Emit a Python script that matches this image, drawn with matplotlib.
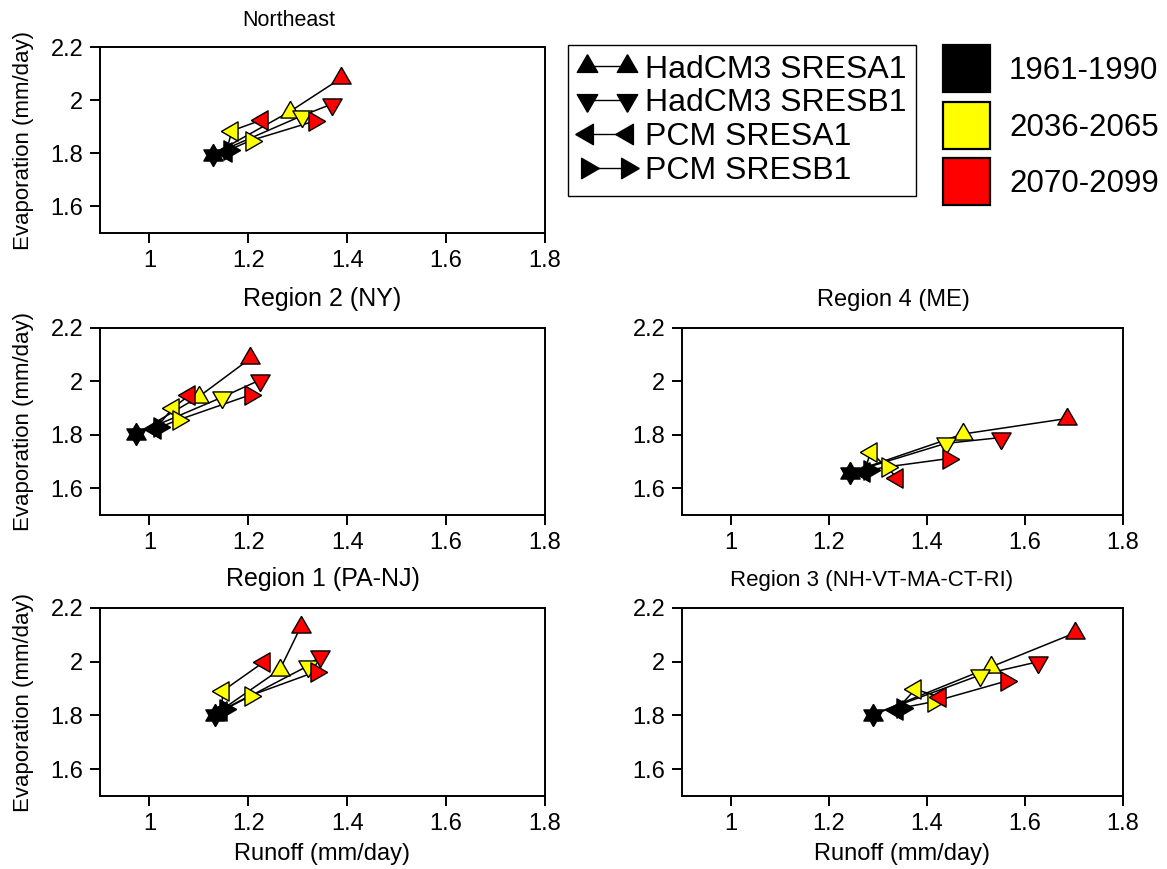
import numpy as np
import matplotlib
matplotlib.use('Agg')
import matplotlib.pyplot as plt
from matplotlib.lines import Line2D
from matplotlib.patches import Rectangle
from matplotlib.ticker import FormatStrFormatter

plt.rcParams['font.family'] = ['Liberation Sans', 'DejaVu Sans']

# scenario order: HadCM3 SRESA1, HadCM3 SRESB1, PCM SRESA1, PCM SRESB1
# each row: [1961-1990, 2036-2065, 2070-2099]
scenarios = ['HadCM3 SRESA1', 'HadCM3 SRESB1', 'PCM SRESA1', 'PCM SRESB1']
periods = ['1961-1990', '2036-2065', '2070-2099']

ne_runoff = [[1.128, 1.284, 1.388], [1.128, 1.308, 1.370],
             [1.155, 1.167, 1.228], [1.160, 1.205, 1.332]]
ne_evap = [[1.795, 1.957, 2.083], [1.795, 1.941, 1.986],
           [1.805, 1.885, 1.926], [1.812, 1.848, 1.920]]

ny_runoff = [[0.972, 1.100, 1.204], [0.972, 1.146, 1.223],
             [1.012, 1.047, 1.081], [1.020, 1.057, 1.203]]
ny_evap = [[1.803, 1.943, 2.086], [1.803, 1.940, 2.005],
           [1.822, 1.900, 1.949], [1.828, 1.855, 1.949]]

pa_runoff = [[1.132, 1.264, 1.306], [1.132, 1.321, 1.345],
             [1.145, 1.149, 1.232], [1.152, 1.203, 1.337]]
pa_evap = [[1.803, 1.971, 2.130], [1.803, 1.985, 2.020],
           [1.815, 1.892, 2.000], [1.825, 1.873, 1.963]]

me_runoff = [[1.242, 1.473, 1.685], [1.242, 1.438, 1.551],
             [1.272, 1.285, 1.339], [1.282, 1.318, 1.443]]
me_evap = [[1.658, 1.803, 1.861], [1.658, 1.768, 1.790],
           [1.662, 1.736, 1.640], [1.668, 1.680, 1.711]]

nh_runoff = [[1.290, 1.531, 1.703], [1.290, 1.508, 1.627],
             [1.338, 1.376, 1.427], [1.348, 1.413, 1.562]]
nh_evap = [[1.803, 1.981, 2.108], [1.803, 1.950, 2.000],
           [1.822, 1.897, 1.869], [1.828, 1.851, 1.928]]

# equilateral triangles centred on their centroid, so that up+down make a star
c, s_ = np.cos(np.pi / 6), 0.5
tri_up = [(0, 1), (-c, -s_), (c, -s_), (0, 1)]
tri_down = [(0, -1), (-c, s_), (c, s_), (0, -1)]
tri_left = [(-1, 0), (s_, c), (s_, -c), (-1, 0)]
tri_right = [(1, 0), (-s_, c), (-s_, -c), (1, 0)]
markers = [tri_up, tri_down, tri_left, tri_right]
period_colors = ['black', '#ffff00', '#ff0000']

W, H = 1167, 869
fig = plt.figure(figsize=(W / 100, H / 100), dpi=100)


def px_axes(x0, y0, x1, y1):
    return fig.add_axes([x0 / W, 1 - y1 / H, (x1 - x0) / W, (y1 - y0) / H])


def draw_panel(ax, runoff, evap, title=None, xlabel=None, ylabel=True,
               title_x=0.5, title_size=18):
    runoff = np.array(runoff)
    evap = np.array(evap)
    for i in range(len(markers)):
        ax.plot(runoff[i], evap[i], color='black', lw=1.1, zorder=2)
    for j in range(len(periods)):
        for i in range(len(markers)):
            ax.scatter(runoff[i, j], evap[i, j], marker=markers[i], s=16 ** 2,
                       facecolor=period_colors[j], edgecolor='black',
                       linewidth=1.0, zorder=3 + j)
    ax.set_xlim(0.9, 1.8)
    ax.set_ylim(1.5, 2.2)
    ax.set_xticks([1, 1.2, 1.4, 1.6, 1.8])
    ax.set_yticks([1.6, 1.8, 2.0, 2.2])
    ax.xaxis.set_major_formatter(FormatStrFormatter('%g'))
    ax.yaxis.set_major_formatter(FormatStrFormatter('%g'))
    ax.tick_params(direction='out', length=7, width=1.4, labelsize=17, pad=5)
    for sp in ax.spines.values():
        sp.set_linewidth(1.4)
    if title:
        ax.set_title(title, fontsize=title_size, pad=16, x=title_x)
    if xlabel:
        ax.set_xlabel(xlabel, fontsize=17, labelpad=6)
    if ylabel:
        ax.set_ylabel('Evaporation (mm/day)', fontsize=16, labelpad=12)


ax_ne = px_axes(100, 47, 545, 233)
ax_ny = px_axes(100, 328, 545, 515)
ax_me = px_axes(682, 328, 1123, 515)
ax_pa = px_axes(100, 608, 545, 796)
ax_nh = px_axes(682, 608, 1123, 796)

draw_panel(ax_ne, ne_runoff, ne_evap)
ax_ne.text(0.425, 1.145, 'Northeast', transform=ax_ne.transAxes,
           ha='center', va='center', fontsize=15.5)
draw_panel(ax_ny, ny_runoff, ny_evap, title='Region 2 (NY)')
draw_panel(ax_me, me_runoff, me_evap, title='Region 4 (ME)', ylabel=False,
           title_x=0.48, title_size=17)
draw_panel(ax_pa, pa_runoff, pa_evap, title='Region 1 (PA-NJ)',
           xlabel='Runoff (mm/day)')
draw_panel(ax_nh, nh_runoff, nh_evap, title='Region 3 (NH-VT-MA-CT-RI)',
           xlabel='Runoff (mm/day)', ylabel=False, title_x=0.43,
           title_size=16)

# scenario legend
handles = [Line2D([], [], color='black', lw=1.0, marker=m, ms=17,
                  markerfacecolor='black', markeredgecolor='black')
           for m in markers]
leg1 = fig.legend(handles, scenarios, loc='upper left',
                  bbox_to_anchor=(568 / W, 1 - 45 / H), borderaxespad=0,
                  numpoints=2, fontsize=23, handlelength=1.85,
                  handletextpad=0.25, labelspacing=0.12, borderpad=0.3,
                  fancybox=False, edgecolor='black', framealpha=1)
leg1.get_frame().set_linewidth(1.0)

# period key: coloured squares with labels
sq_tops = [45, 102, 158]
for col, lab, top in zip(period_colors, periods, sq_tops):
    fig.add_artist(Rectangle((943 / W, 1 - (top + 47) / H), 47 / W, 47 / H,
                             transform=fig.transFigure, facecolor=col,
                             edgecolor='black', linewidth=1.6))
    fig.text(1009 / W, 1 - (top + 26) / H, lab, fontsize=22.5,
             ha='left', va='center')

fig.savefig('out.png', dpi=100)
